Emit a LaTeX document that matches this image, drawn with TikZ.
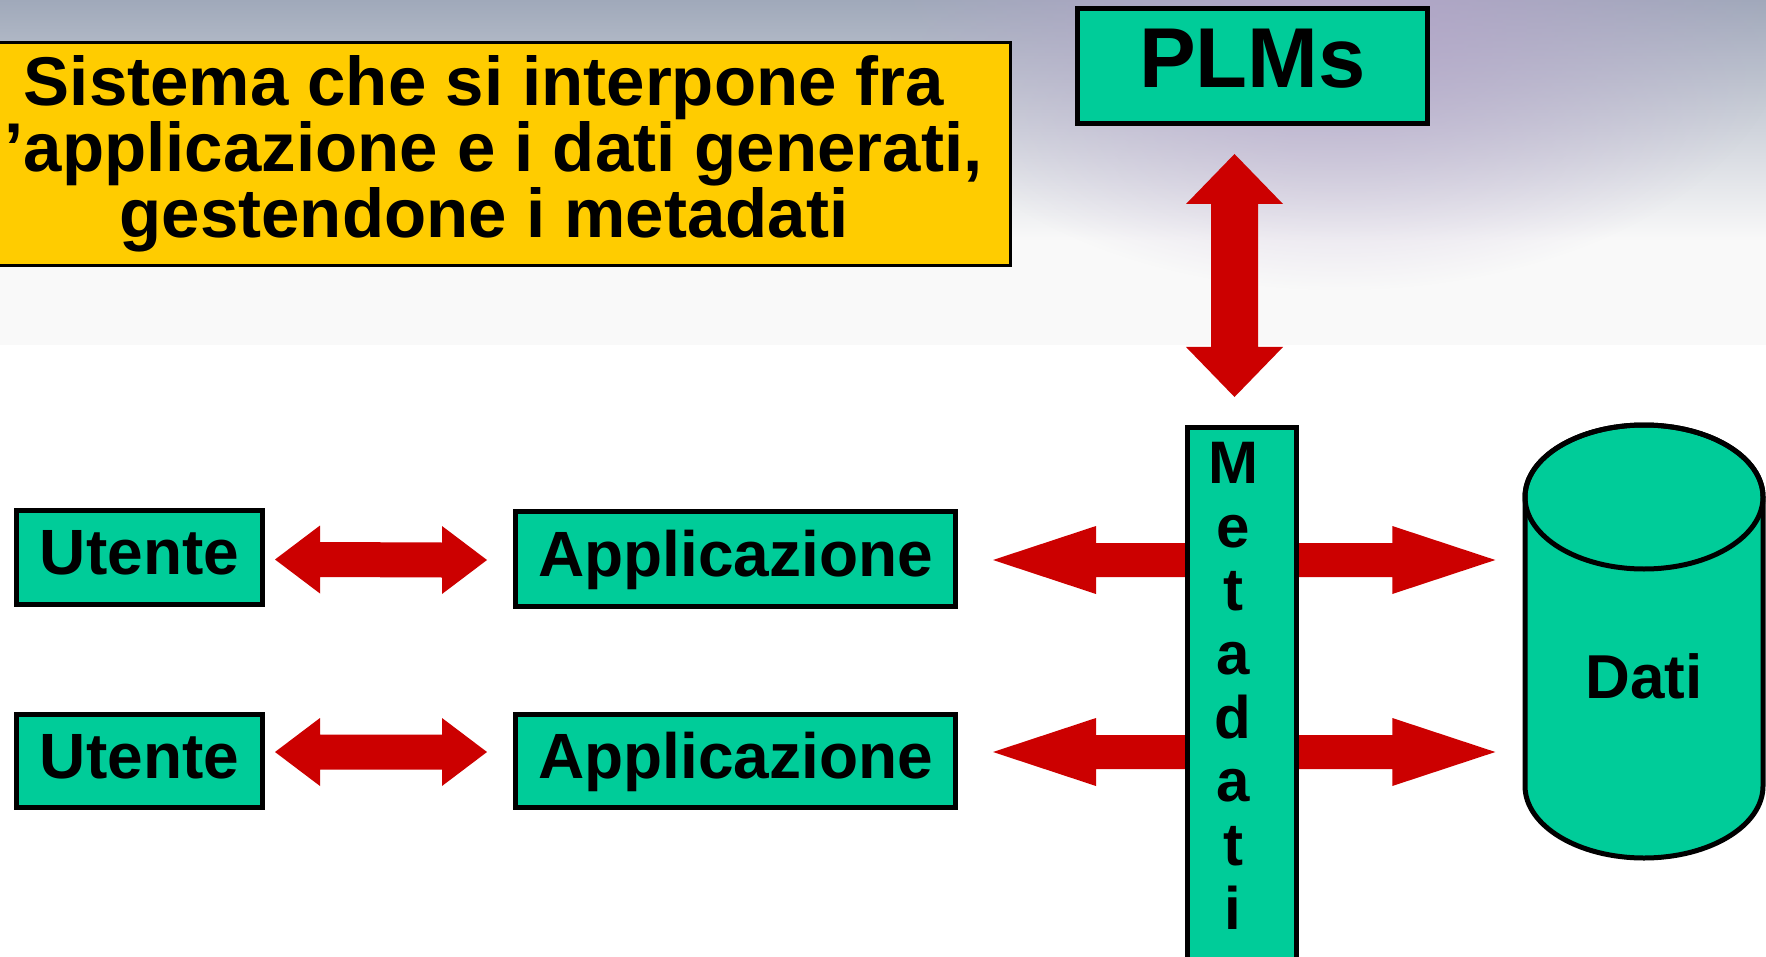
\documentclass[tikz,border=0pt]{standalone}
\usepackage{fontspec}
\setmainfont{Liberation Sans}
\usetikzlibrary{calc,fadings}
\definecolor{boxgreen}{HTML}{00CC99}
\definecolor{boxyellow}{HTML}{FFCC00}
\definecolor{arrowred}{HTML}{CC0000}
\definecolor{bgtop}{HTML}{A0A9BA}
\definecolor{bgmid}{HTML}{D4D6DE}
\definecolor{bgbot}{HTML}{F9F9F9}
\definecolor{lav}{HTML}{B6A5CB}
\tikzfading[name=lavfade, inner color=transparent!0, outer color=transparent!100]
% horizontal double arrow: left tip, right tip, head length, head half, shaft half
\newcommand\hdbl[5]{%
  \fill[arrowred] (#1) -- ($(#1)+(#3,-#4)$) -- ($(#1)+(#3,-#5)$) -- ($(#2)+(-#3,-#5)$)
    -- ($(#2)+(-#3,-#4)$) -- (#2) -- ($(#2)+(-#3,#4)$) -- ($(#2)+(-#3,#5)$)
    -- ($(#1)+(#3,#5)$) -- ($(#1)+(#3,#4)$) -- cycle;}
% vertical double arrow: top tip, bottom tip, head length, head half, shaft half
\newcommand\vdbl[5]{%
  \fill[arrowred] (#1) -- ($(#1)+(#4,#3)$) -- ($(#1)+(#5,#3)$) -- ($(#2)+(#5,-#3)$)
    -- ($(#2)+(#4,-#3)$) -- (#2) -- ($(#2)+(-#4,-#3)$) -- ($(#2)+(-#5,-#3)$)
    -- ($(#1)+(-#5,#3)$) -- ($(#1)+(-#4,#3)$) -- cycle;}
\begin{document}
\begin{tikzpicture}[x=1pt,y=-1pt,
  greenbox/.style={draw=black, line width=5pt, fill=boxgreen, inner sep=0pt,
    text height=47pt, text depth=13pt},
  lbl/.style={font=\bfseries\fontsize{64}{70}\selectfont}]
\clip (0,0) rectangle (1766,957);
% background
\fill[white] (0,0) rectangle (1766,957);
\fill[bgbot] (0,240) rectangle (1766,345);
\shade[top color=bgtop, middle color=bgmid, bottom color=bgbot] (0,0) rectangle (1766,241);
\fill[lav, path fading=lavfade, opacity=0.85] (1340,20) ellipse [x radius=450, y radius=270];
% title box
\node[draw=black, line width=3pt, fill=boxyellow, minimum width=1053, minimum height=223,
  inner sep=0pt, align=center, font=\bfseries\fontsize{69}{66}\selectfont]
  (title) at (484,154) {Sistema che si interpone fra\\\hspace*{19pt}’applicazione e i dati generati,\\gestendone i metadati};
% PLMs
\node[greenbox, font=\bfseries\fontsize{85}{90}\selectfont, text height=62pt, text depth=18pt,
  minimum width=350, minimum height=115] (plms) at (1252.5,66) {PLMs};
% users and applications
\node[greenbox, lbl, minimum width=246, minimum height=94] (u1) at (139.5,557.5) {Utente};
\node[greenbox, lbl, minimum width=440, minimum height=95] (a1) at (735.5,559) {Applicazione};
\node[greenbox, lbl, minimum width=246, minimum height=93] (u2) at (139.5,761) {Utente};
\node[greenbox, lbl, minimum width=440, minimum height=93] (a2) at (735.5,761) {Applicazione};
% data cylinder
\path[draw=black, line width=5pt, fill=boxgreen] (1525,497) -- (1525,786)
  arc[start angle=180, end angle=0, x radius=119, y radius=72] -- (1763,497)
  arc[start angle=0, end angle=-180, x radius=119, y radius=72] -- cycle;
\draw[line width=5pt] (1644,497) ellipse [x radius=119, y radius=72];
\node[font=\bfseries\fontsize{62}{70}\selectfont, minimum width=243, inner sep=0pt] (dati) at (1644,676) {Dati};
% arrows user <-> application
\coordinate (l1a) at ($(u1.east)+(10,2)$);
\coordinate (l1b) at ($(a1.west)+(-26,1)$);
\coordinate (l2a) at ($(u2.east)+(10,-9)$);
\coordinate (l2b) at ($(a2.west)+(-26,-9)$);
\hdbl{l1a}{l1b}{45}{34}{17.5}
\hdbl{l2a}{l2b}{45}{34}{17.5}
% arrows application <-> data (behind the metadata bar)
\coordinate (m1a) at ($(a1.east)+(35,1)$);
\coordinate (m1b) at ($(dati.west |- m1a)+(-27,0)$);
\coordinate (m2a) at ($(a2.east)+(35,-9)$);
\coordinate (m2b) at ($(dati.west |- m2a)+(-27,0)$);
\hdbl{m1a}{m1b}{103}{34}{17}
\hdbl{m2a}{m2b}{103}{34}{17}
% metadata bar
\node[greenbox, text height=0pt, text depth=0pt, minimum width=109, minimum height=560,
  anchor=north] (meta) at (1242,425) {};
\node[anchor=north, inner sep=0pt, align=center, font=\bfseries\fontsize{60}{63.7}\selectfont]
  (metatxt) at (1233,442) {M\\e\\t\\a\\d\\a\\t\\i};
% PLMs <-> metadata
\coordinate (v1) at ($(plms.south)+(-18,28)$);
\coordinate (v2) at ($(meta.north)+(-7.5,-28)$);
\vdbl{v1}{v2}{50}{48.5}{23.5}
\end{tikzpicture}
\end{document}
